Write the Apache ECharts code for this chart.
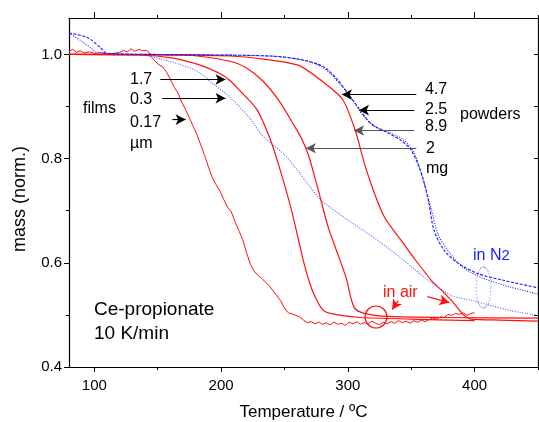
<!DOCTYPE html>
<html>
<head>
<meta charset="utf-8">
<script src="https://cdn.jsdelivr.net/npm/echarts@6/dist/echarts.min.js"></script>
<style>
  html, body { margin: 0; padding: 0; background: #fff; }
  #chart { width: 539px; height: 422px; }
</style>
</head>
<body>
<div id="chart"></div>
<script>
// datos (TG de Ce-propionato)
const xTicks = [100, 200, 300, 400];
const xMinor = [150, 250, 350, 450];
const yTicks = [0.4, 0.6, 0.8, 1.0];
const yMinor = [0.5, 0.7, 0.9];
const yRight = [0.4, 0.5, 0.6, 0.7, 0.8, 0.9, 1.0];

// film 0.17 um, aire (ruidosa)
const tFilm017 = [80, 83, 86, 89, 92, 96, 100, 105, 110, 115, 120, 123, 126, 129, 132, 135, 138, 141, 143,
  145, 148, 151, 154, 157, 160, 163, 166, 169, 172, 175, 178, 181, 184, 187, 190, 193, 196, 199, 202, 205,
  208, 211, 214, 217, 220, 223, 226, 229, 232, 235, 238, 241, 244, 247, 250, 253, 256, 259, 262, 265, 268,
  271, 274, 277, 280, 283, 286, 289, 292, 295, 298, 301, 304, 307, 310, 313, 316, 319, 322, 325, 328, 331,
  334, 337, 340, 343, 346, 349, 352, 355, 358, 361, 364, 367, 370, 373, 376, 379, 382, 385, 388, 391, 394, 397, 400];
const mFilm017 = [1.006, 1.010, 1.004, 1.007, 1.003, 1.005, 1.002, 1.003, 1.001, 1.002, 1.004, 1.008, 1.005, 1.011, 1.006, 1.010, 1.007, 1.008, 1.004,
  0.995, 0.987, 0.980, 0.976, 0.966, 0.952, 0.937, 0.926, 0.908, 0.894, 0.878, 0.862, 0.846, 0.826, 0.806, 0.784, 0.764, 0.750, 0.738, 0.722, 0.707,
  0.698, 0.679, 0.662, 0.645, 0.620, 0.598, 0.584, 0.576, 0.570, 0.563, 0.556, 0.546, 0.537, 0.527, 0.513, 0.504, 0.502, 0.499, 0.496, 0.490, 0.485,
  0.487, 0.483, 0.486, 0.482, 0.485, 0.481, 0.486, 0.482, 0.484, 0.480, 0.486, 0.483, 0.487, 0.482, 0.485, 0.483, 0.488, 0.484, 0.481, 0.486, 0.483,
  0.487, 0.484, 0.489, 0.485, 0.488, 0.484, 0.489, 0.486, 0.490, 0.487, 0.491, 0.494, 0.492, 0.496, 0.495, 0.501, 0.499, 0.503, 0.501, 0.504, 0.499, 0.503, 0.504];

// film 1.7 um, aire
const tFilm17 = [80, 136, 162, 184, 200, 207, 215, 228, 238, 245, 255, 264.5, 268.5, 273, 281, 295, 310, 350, 400];
const mFilm17 = [1.0, 0.999, 0.993, 0.979, 0.962, 0.950, 0.930, 0.895, 0.842, 0.791, 0.706, 0.608, 0.572, 0.541, 0.508, 0.499, 0.495, 0.492, 0.489];

// film 0.3 um, N2
const tFilm03 = [80, 135, 159, 181, 193, 207, 222.5, 233, 249, 260.5, 271, 279, 297, 316, 334, 352, 363.5, 382, 397.5, 413, 429, 450];
const mFilm03 = [1.0, 0.999, 0.987, 0.968, 0.945, 0.918, 0.878, 0.843, 0.810, 0.777, 0.743, 0.720, 0.687, 0.656, 0.624, 0.589, 0.566, 0.537, 0.528, 0.518, 0.508, 0.499];

// polvo 2 mg, aire
const tPow2 = [80, 170, 207, 220, 233, 246, 257, 264, 269, 276.5, 284.5, 289, 298.5, 305, 313, 332, 380, 450];
const mPow2 = [1.0, 0.999, 0.987, 0.974, 0.949, 0.910, 0.866, 0.836, 0.806, 0.741, 0.668, 0.637, 0.572, 0.514, 0.503, 0.497, 0.495, 0.494];

// polvo 8.9 mg, aire
const tPow89 = [80, 207, 260, 280, 296, 306, 313, 321, 329, 342, 352.5, 366, 374, 382, 390, 393, 397, 420, 450];
const mPow89 = [1.0, 0.997, 0.980, 0.948, 0.913, 0.853, 0.791, 0.733, 0.687, 0.643, 0.608, 0.566, 0.547, 0.527, 0.503, 0.497, 0.492, 0.490, 0.488];

// polvo 4.7 mg, N2
const tPow47 = [80, 94, 104.5, 110, 150, 239, 265, 281, 292, 300, 308, 318, 332, 342, 350, 358, 363.5, 368, 376, 387, 403, 423.5, 450];
const mPow47 = [1.041, 1.033, 1.014, 1.002, 1.0, 0.997, 0.989, 0.976, 0.951, 0.925, 0.899, 0.868, 0.849, 0.835, 0.816, 0.772, 0.720, 0.662, 0.624, 0.599, 0.579, 0.566, 0.552];

// polvo 2.5 mg, N2
const tPow25 = [80, 89, 96.5, 102, 150, 239, 265, 281, 294.5, 304, 312, 322, 334, 344.5, 352.5, 359.5, 366, 371.5, 380, 391, 407, 429, 450];
const mPow25 = [1.041, 1.027, 1.014, 1.004, 1.0, 0.997, 0.989, 0.974, 0.941, 0.912, 0.883, 0.860, 0.849, 0.835, 0.810, 0.758, 0.701, 0.653, 0.620, 0.591, 0.570, 0.553, 0.540];

function pairs(t, m) { return t.map((v, i) => [v, m[i]]); }

const FONT = 'Liberation Sans, Arial, sans-serif';
const RED = '#ff1010';
const BLUE = '#1a1aff';

function arrow(x1, y1, x2, y2, color) {
  return [{ coord: [x1, y1], lineStyle: { color: color, width: 1.2, type: 'solid' } }, { coord: [x2, y2] }];
}

function label(x, y, text, size, color) {
  return { type: 'text', x: x, y: y,
    style: { text: text, fontFamily: FONT, fontSize: size || 16, fill: color || '#000', verticalAlign: 'middle' } };
}

const chart = echarts.init(document.getElementById('chart'), null, { renderer: 'canvas' });

const axisCommon = {
  type: 'value', min: 80, max: 450, gridIndex: 0,
  splitLine: { show: false }
};
const yCommon = {
  type: 'value', min: 0.4, max: 1.07, gridIndex: 0,
  splitLine: { show: false }
};

const option = {
  animation: false,
  backgroundColor: '#fff',
  grid: { left: 69, right: 1, top: 18, bottom: 55, containLabel: false, outerBoundsMode: 'none' },
  xAxis: [
    Object.assign({}, axisCommon, {
      position: 'bottom',
      name: 'Temperature / ºC', nameLocation: 'middle', nameGap: 37,
      nameTextStyle: { fontFamily: FONT, fontSize: 17, color: '#000' },
      axisLine: { lineStyle: { color: '#000', width: 1.2 } },
      axisTick: { customValues: xTicks, length: 5, lineStyle: { color: '#000' } },
      axisLabel: { customValues: xTicks, fontFamily: FONT, fontSize: 15, color: '#000', margin: 11 }
    }),
    Object.assign({}, axisCommon, {
      position: 'bottom',
      axisLine: { show: false },
      axisTick: { customValues: xMinor, length: 3, lineStyle: { color: '#000' } },
      axisLabel: { show: false }
    }),
    Object.assign({}, axisCommon, {
      position: 'top',
      axisLine: { lineStyle: { color: '#000', width: 1.2 } },
      axisTick: { customValues: xTicks, length: 6, lineStyle: { color: '#000' } },
      axisLabel: { show: false }
    }),
    Object.assign({}, axisCommon, {
      position: 'top',
      axisLine: { show: false },
      axisTick: { customValues: xMinor, length: 3, lineStyle: { color: '#000' } },
      axisLabel: { show: false }
    })
  ],
  yAxis: [
    Object.assign({}, yCommon, {
      position: 'left',
      axisLine: { show: true, lineStyle: { color: '#000', width: 1.2 } },
      axisTick: { show: true, customValues: yTicks, length: 5, lineStyle: { color: '#000' } },
      axisLabel: { customValues: yTicks, fontFamily: FONT, fontSize: 15, color: '#000', margin: 7,
        formatter: v => v.toFixed(1) }
    }),
    Object.assign({}, yCommon, {
      position: 'left',
      axisLine: { show: false },
      axisTick: { show: true, customValues: yMinor, length: 3, lineStyle: { color: '#000' } },
      axisLabel: { show: false }
    }),
    Object.assign({}, yCommon, {
      position: 'right',
      axisLine: { show: true, lineStyle: { color: '#000', width: 1.2 } },
      axisTick: { show: true, inside: true, customValues: yRight, length: 4, lineStyle: { color: '#000' } },
      axisLabel: { show: false }
    })
  ],
  series: [
    { name: '0.17 um', type: 'line', data: pairs(tFilm017, mFilm017), showSymbol: false, silent: true,
      lineStyle: { color: RED, width: 1 } },
    { name: '1.7 um', type: 'line', data: pairs(tFilm17, mFilm17), showSymbol: false, smooth: 0.3, silent: true,
      lineStyle: { color: RED, width: 1.2 } },
    { name: '0.3 um N2', type: 'line', data: pairs(tFilm03, mFilm03), showSymbol: false, smooth: 0.3, silent: true,
      lineStyle: { color: '#5a5aff', width: 1.1, type: [1, 1.5] } },
    { name: '2 mg', type: 'line', data: pairs(tPow2, mPow2), showSymbol: false, smooth: 0.3, silent: true,
      lineStyle: { color: RED, width: 1.2 } },
    { name: '8.9 mg', type: 'line', data: pairs(tPow89, mPow89), showSymbol: false, smooth: 0.25, silent: true,
      lineStyle: { color: RED, width: 1.2 } },
    { name: '4.7 mg', type: 'line', data: pairs(tPow47, mPow47), showSymbol: false, smooth: 0.3, silent: true,
      lineStyle: { color: BLUE, width: 1.1, type: [3, 1.5] } },
    { name: '2.5 mg', type: 'line', data: pairs(tPow25, mPow25), showSymbol: false, smooth: 0.3, silent: true,
      lineStyle: { color: BLUE, width: 1.1, type: [1, 1.5] } },
    { name: 'flechas', type: 'line', data: [], silent: true,
      markLine: {
        silent: true, animation: false,
        symbol: ['none', 'arrow'], symbolSize: [8, 10],
        label: { show: false },
        emphasis: { disabled: true },
        data: [
          arrow(152, 0.952, 203.5, 0.952, '#000'),
          arrow(153.6, 0.916, 203.5, 0.916, '#000'),
          arrow(161.6, 0.875, 172, 0.875, '#000'),
          arrow(354, 0.923, 295.4, 0.923, '#000'),
          arrow(352.4, 0.893, 308.8, 0.893, '#000'),
          arrow(352.4, 0.854, 304.9, 0.854, '#555'),
          arrow(354, 0.820, 266.9, 0.820, '#555'),
          arrow(339.7, 0.5275, 334.9, 0.5102, RED),
          arrow(362.7, 0.535, 380.1, 0.5237, RED)
        ]
      }
    }
  ],
  graphic: [
    { type: 'text', x: 20, y: 199, rotation: Math.PI / 2,
      style: { text: 'mass (norm.)', fontFamily: FONT, fontSize: 18, fill: '#000', align: 'center', verticalAlign: 'middle' } },
    label(130, 80, '1.7'),
    label(130, 100, '0.3'),
    label(130, 123, '0.17'),
    label(130, 144, 'µm'),
    label(83, 109, 'films'),
    label(425, 90, '4.7'),
    label(425, 110, '2.5'),
    label(425, 127, '8.9'),
    label(426, 149, '2'),
    label(426, 169, 'mg'),
    label(460, 115, 'powders'),
    label(94, 310, 'Ce-propionate', 19),
    label(94, 334, '10 K/min', 19),
    label(383, 293, 'in air', 16, RED),
    { type: 'text', x: 473, y: 256, style: { text: '{a|in N}{b|2}', fontFamily: FONT, fontSize: 16, fill: BLUE, verticalAlign: 'middle',
      rich: { a: { fontFamily: FONT, fontSize: 16, fill: BLUE }, b: { fontFamily: FONT, fontSize: 15, fill: BLUE } } } },
    { type: 'circle', shape: { cx: 376, cy: 317, r: 11 }, style: { fill: 'none', stroke: RED, lineWidth: 1.2 } },
    { type: 'group', x: 483.5, y: 287.5, scaleX: 7.5 / 20.5, children: [
      { type: 'circle', shape: { cx: 0, cy: 0, r: 20.5 }, style: { fill: 'none', stroke: BLUE, lineWidth: 1.1, lineDash: [1.5, 2], strokeNoScale: true } }
    ] }
  ]
};

chart.setOption(option);
window.addEventListener('resize', () => chart.resize());
</script>
</body>
</html>
